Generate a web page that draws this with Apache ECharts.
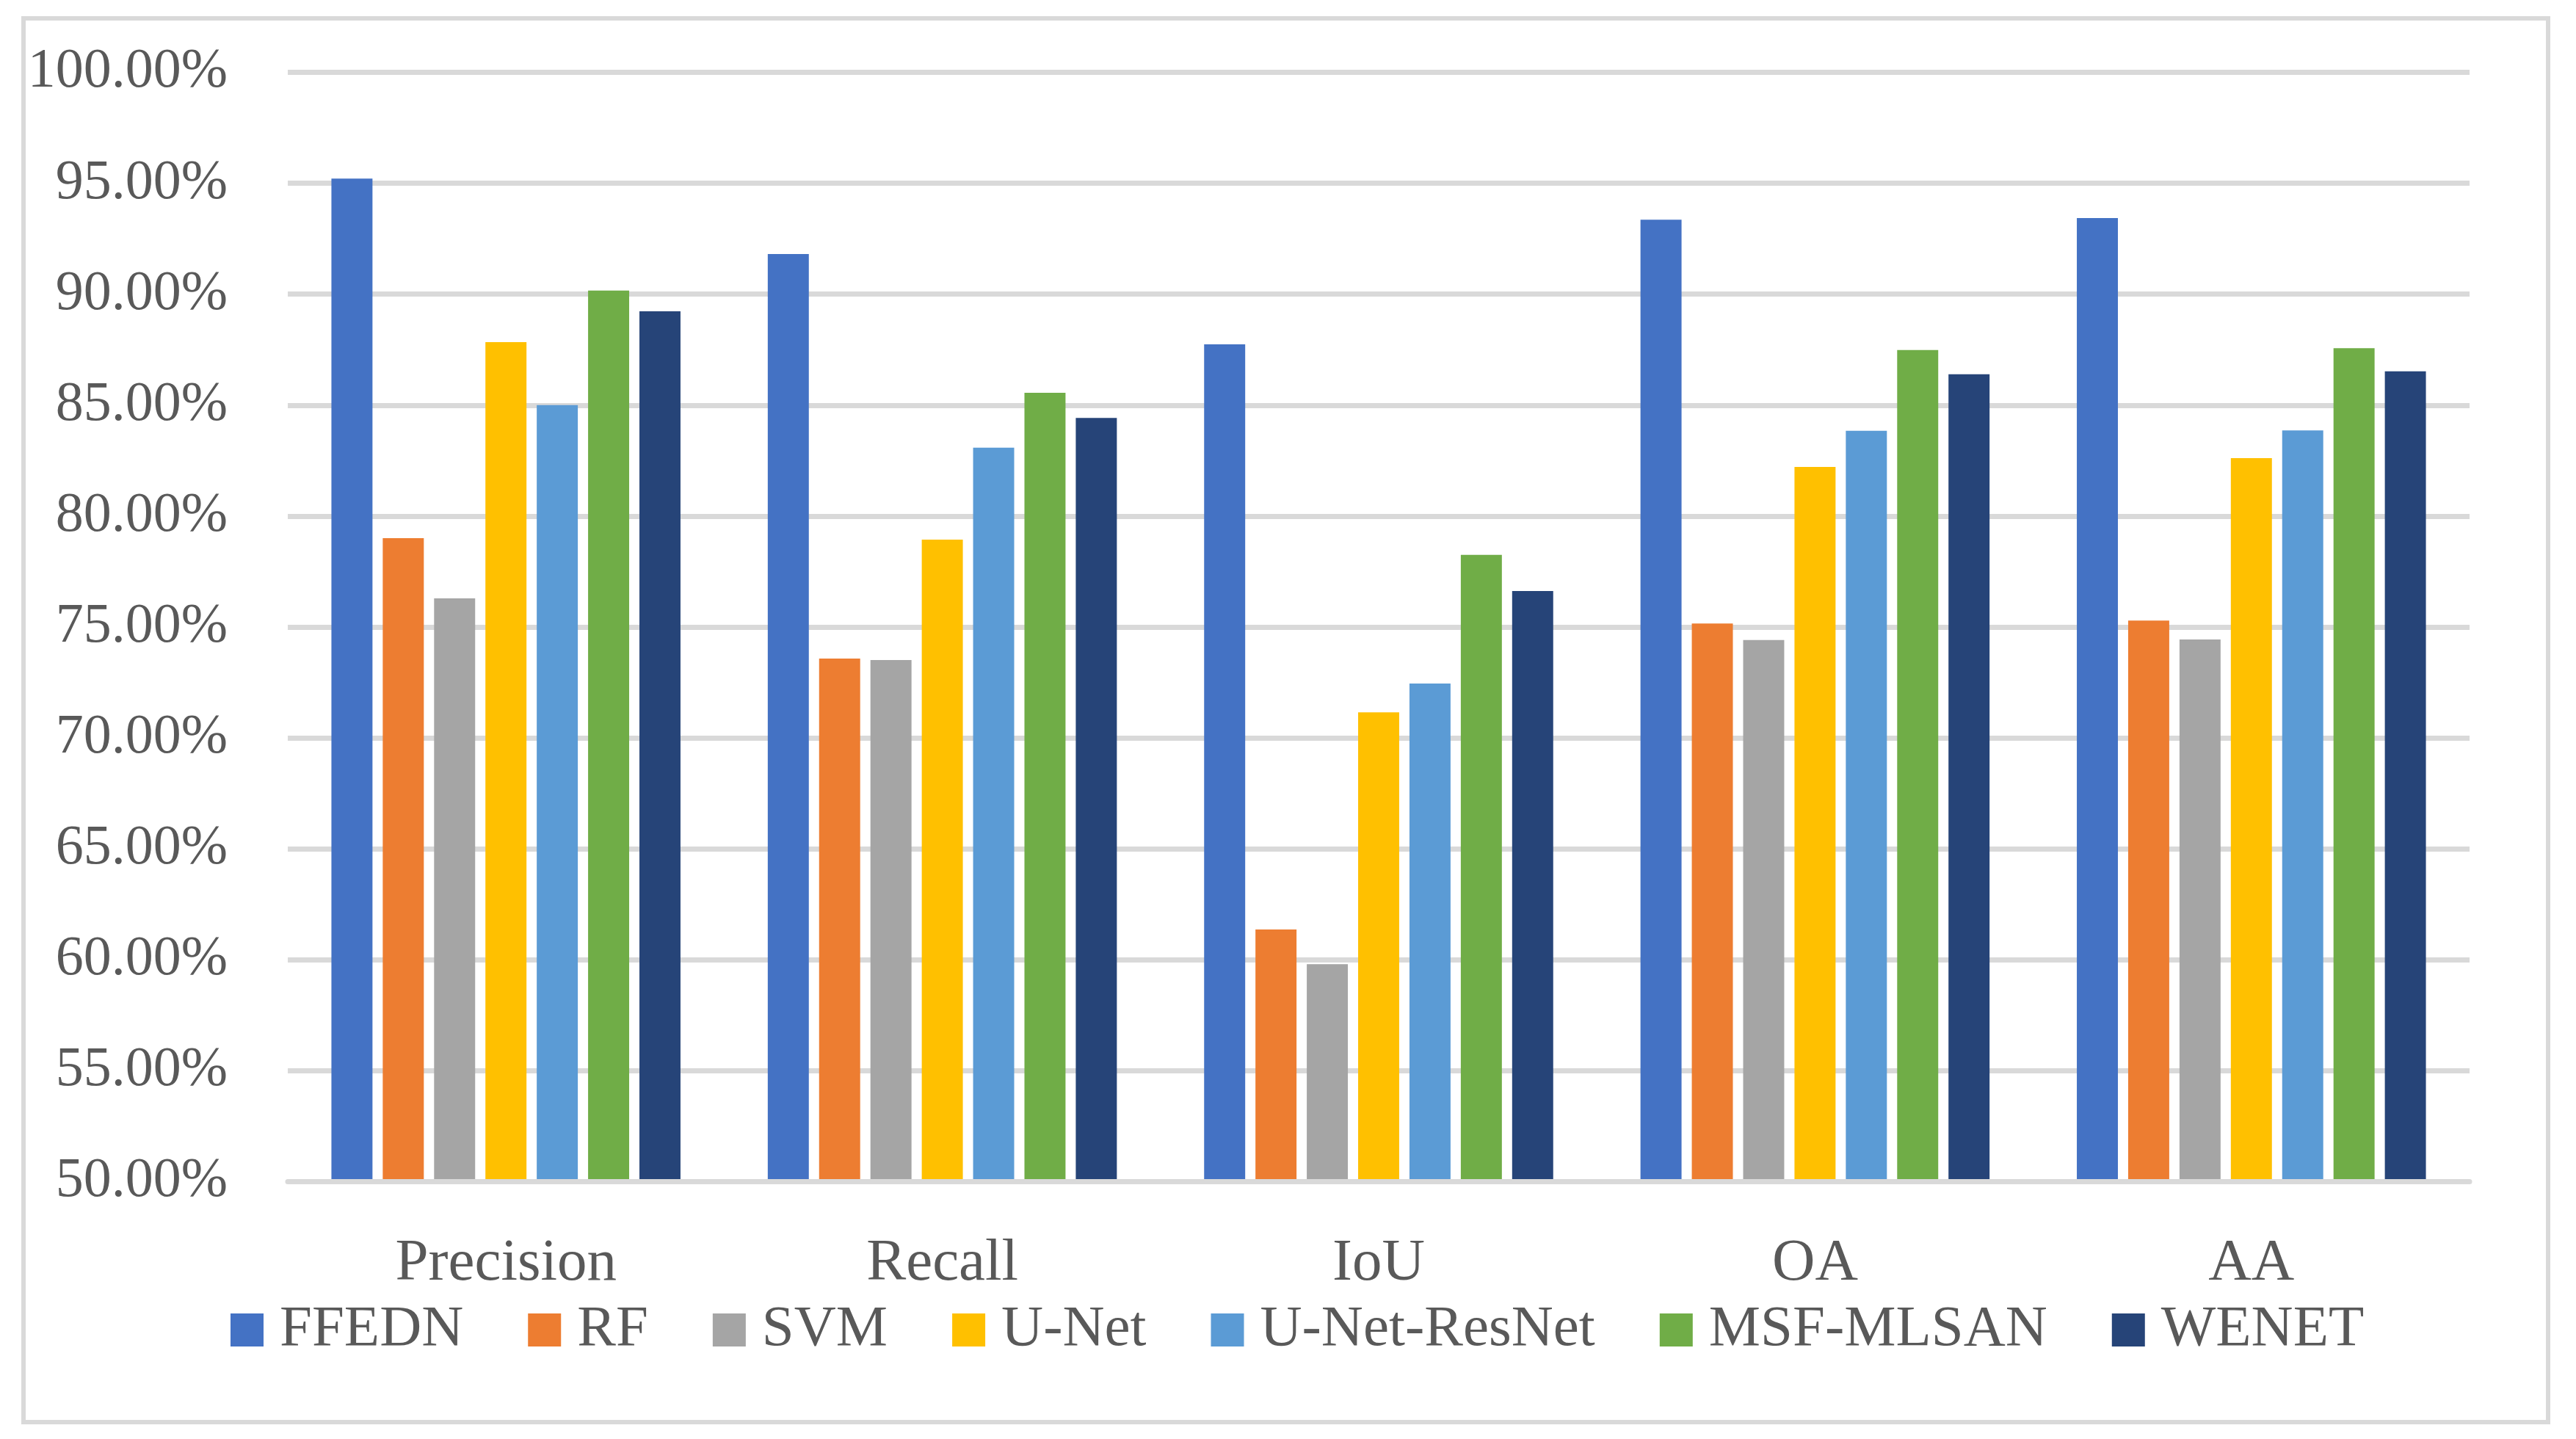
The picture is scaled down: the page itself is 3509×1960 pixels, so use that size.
<!DOCTYPE html>
<html>
<head>
<meta charset="utf-8">
<title>chart</title>
<script src="https://cdn.jsdelivr.net/npm/echarts@6/dist/echarts.min.js"></script>
<style>
    html, body { margin: 0; padding: 0; background: #ffffff; }
    #draw_area { width: 3509px; height: 1960px; }
</style>
</head>
<body>
<div id="draw_area"></div>
<script>
"use strict";

//横轴类别
var categories = ['Precision', 'Recall', 'IoU', 'OA', 'AA'];

//各方法名称，也用作图例
var methods = ['FFEDN', 'RF', 'SVM', 'U-Net', 'U-Net-ResNet', 'MSF-MLSAN', 'WENET'];

//每个方法在五个指标上的数值(百分比)
var ffedn = [95.21, 91.81, 87.74, 93.36, 93.43];
var rf = [79.00, 73.58, 61.37, 75.16, 75.29];
var svm = [76.29, 73.51, 59.80, 74.41, 74.44];
var unet = [87.84, 78.94, 71.15, 82.21, 82.61];
var unetResnet = [85.00, 83.08, 72.45, 83.84, 83.86];
var msfMlsan = [90.16, 85.56, 78.25, 87.48, 87.57];
var wenet = [89.23, 84.42, 76.62, 86.39, 86.52];

//纵轴范围
var yMin = 50;
var yMax = 100;
var yStep = 5;

var seriesValues = [ffedn, rf, svm, unet, unetResnet, msfMlsan, wenet];
var colors = ['#4472C4', '#ED7D31', '#A5A5A5', '#FFC000', '#5B9BD5', '#70AD47', '#264478'];

var textColor = '#595959';
var lineColor = '#d9d9d9';
var fontName = '"Liberation Serif", "DejaVu Serif", serif';

function buildSeries() {
    var list = [];
    for (var i = 0; i < methods.length; i++) {
        list.push({
            name: methods[i],
            type: 'bar',
            data: seriesValues[i],
            itemStyle: { color: colors[i] },
            barGap: '25%',
            barCategoryGap: '20%'
        });
    }
    return list;
}

const option = {
    backgroundColor: '#ffffff',
    animation: false,
    color: colors,
    //外框
    graphic: [
        {
            type: 'rect',
            shape: { x: 32, y: 25, width: 3439, height: 1912 },
            style: { fill: 'none', stroke: lineColor, lineWidth: 6 },
            silent: true
        }
    ],
    grid: {
        left: 392,
        right: 145,
        top: 98.5,
        bottom: 350.5,
        containLabel: false
    },
    legend: {
        data: methods,
        left: 314,
        top: 1772,
        padding: 0,
        itemWidth: 45,
        itemHeight: 45,
        itemGap: 88,
        icon: 'rect',
        textStyle: {
            color: textColor,
            fontFamily: fontName,
            fontSize: 79,
            padding: [0, 0, 0, 17]
        }
    },
    xAxis: {
        type: 'category',
        data: categories,
        axisLine: { show: true, lineStyle: { color: lineColor, width: 7 } },
        axisTick: { show: false },
        axisLabel: {
            color: textColor,
            fontFamily: fontName,
            fontSize: 81,
            margin: 72
        },
        z: 3
    },
    yAxis: {
        type: 'value',
        min: yMin,
        max: yMax,
        interval: yStep,
        axisLine: { show: false },
        axisTick: { show: false },
        splitLine: { lineStyle: { color: lineColor, width: 7 } },
        axisLabel: {
            color: textColor,
            fontFamily: fontName,
            fontSize: 76,
            margin: 82,
            formatter: function (v) { return v.toFixed(2) + '%'; }
        }
    },
    series: buildSeries()
};

var chart_object = echarts.init(document.getElementById('draw_area'), null, { renderer: 'canvas' });
chart_object.setOption(option);
</script>
</body>
</html>
